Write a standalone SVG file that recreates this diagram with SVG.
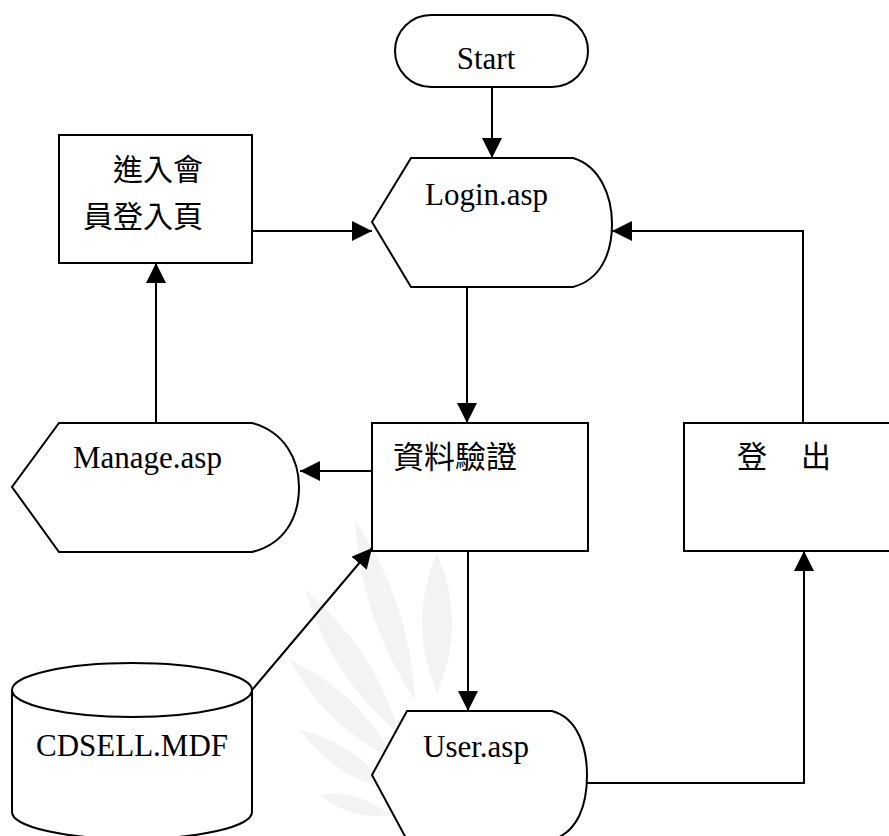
<svg xmlns="http://www.w3.org/2000/svg" width="889" height="836" viewBox="0 0 889 836">
<defs>
<marker id="ah" markerUnits="userSpaceOnUse" markerWidth="20" markerHeight="20" refX="20" refY="10" orient="auto">
<path d="M0,0 L20,10 L0,20 Z" fill="#000"/>
</marker>
<style>
.sh{fill:#fff;stroke:#000;stroke-width:2}
.cn{fill:none;stroke:#000;stroke-width:2;marker-end:url(#ah)}
.en{font-family:'Liberation Serif','Times New Roman',Times,'DejaVu Serif',serif;font-size:31px;fill:#000}
.zh{font-family:'Noto Sans CJK TC','Noto Sans CJK SC',sans-serif;font-size:30px;fill:#000}
.wm{fill:#f3f3f3}
</style>
</defs>
<rect width="889" height="836" fill="#fff"/>
<g id="watermark">
<path class="wm" d="M437,693 Q467,623 437,553 Q407,623 437,693 Z"/>
<path class="wm" d="M415,700 Q409.7,601.8 355,520 Q360.3,618.2 415,700 Z"/>
<path class="wm" d="M400,735 Q374.3,648.2 305,590 Q330.7,676.8 400,735 Z"/>
<path class="wm" d="M395,760 Q359.1,692.6 290,660 Q325.9,727.4 395,760 Z"/>
<path class="wm" d="M390,790 Q356.1,743.4 300,730 Q333.9,776.6 390,790 Z"/>
<path class="wm" d="M390,815 Q359.4,789.6 320,795 Q350.6,820.4 390,815 Z"/>
</g>
<g id="connectors">
<path class="cn" d="M492,87 V158"/>
<path class="cn" d="M252,231 H372"/>
<path class="cn" d="M467,278 V423"/>
<path class="cn" d="M372,471 H300"/>
<path class="cn" d="M156,423 V263"/>
<path class="cn" d="M252,690 L372,548"/>
<path class="cn" d="M468,543 V711"/>
<path class="cn" d="M587,783 H804 V551"/>
<path class="cn" d="M803,423 V231 H612"/>
</g>
<g id="start">
<rect class="sh" x="395" y="15" width="193" height="72" rx="36" ry="36"/>
<text class="en" x="486" y="69" text-anchor="middle" font-family="Liberation Serif, serif">Start</text>
</g>
<g id="login">
<path class="sh" d="M411,158 H573 C600,166 612,196 612,224 C612,254 600,280 573,287 H411 L372,222 Z"/>
<text class="en" x="425" y="205">Login.asp</text>
</g>
<g id="enter">
<rect class="sh" x="59" y="135" width="193" height="128"/>
<text class="zh" x="113" y="180">進入會</text>
<text class="zh" x="83" y="227">員登入頁</text>
</g>
<g id="verify">
<rect class="sh" x="372" y="423" width="216" height="128"/>
<text class="zh" x="393" y="468" style="font-size:31px">資料驗證</text>
</g>
<g id="manage">
<path class="sh" d="M59,423 H252 C285,432 299,460 299,487 C299,517 285,544 252,552 H59 L12,487 Z"/>
<text class="en" x="73" y="468">Manage.asp</text>
</g>
<g id="logout">
<rect class="sh" x="684" y="423" width="215" height="128"/>
<text class="zh" x="737" y="467">登</text>
<text class="zh" x="801" y="467">出</text>
</g>
<g id="db">
<path class="sh" d="M12,690 V812 A120,27 0 0 0 252,812 V690"/>
<ellipse class="sh" cx="132" cy="690" rx="120" ry="27"/>
<text class="en" x="132" y="756" text-anchor="middle">CDSELL.MDF</text>
</g>
<g id="user">
<path class="sh" d="M407,711 H552 C578,718 587,748 587,775 C587,805 578,832 552,840 H407 L372,775 Z"/>
<text class="en" x="423" y="757">User.asp</text>
</g>
</svg>
